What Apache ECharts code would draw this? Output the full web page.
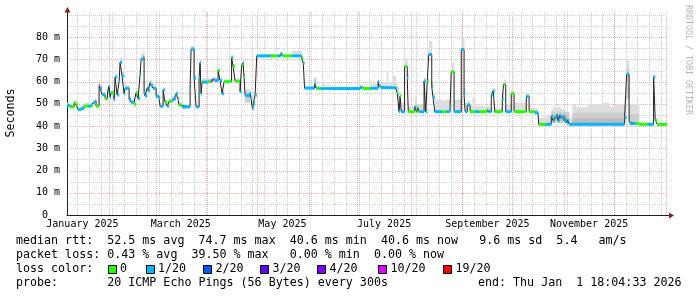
<!DOCTYPE html>
<html><head><meta charset="utf-8">
<script src="https://cdn.jsdelivr.net/npm/echarts@6/dist/echarts.min.js"></script>
<style>html,body{margin:0;padding:0;background:#fff}#c{width:697px;height:297px}</style>
</head><body><div id="c"></div>
<script>
// x values: days since 2025-01-01 00:00 (Jan 1 = 0)
const START_DAY = 5.75, END_DAY = 365.75;
const Y_MAX = 91.35;
const yMajorTicks = [10,20,30,40,50,60,70,80];
const yMinorTicks = [5,15,25,35,45,55,65,75,85,90];
const monthStarts = [31,59,90,120,151,181,212,243,273,304,334,365];
const firstMonday = 12;
const monthLabelDays = [15,74,135,196,258,319];
const monthLabels = ['January 2025','March 2025','May 2025','July 2025','September 2025','November 2025'];
const lossKeys = [0,1,2,3,4,10,19];
const lossNames = ['0','1/20','2/20','3/20','4/20','10/20','19/20'];
const lossColors = ['#26ff00','#00b8ff','#0059ff','#5e00ff','#7e00ff','#dd00ff','#ff0000'];

// [start day, median ms, loss (of 20), smoke top ms]
const medianSteps = [
[5.8,49.2,1,50.5],[7.6,48.6,0,50.0],[10.0,50.5,0,51.5],[11.2,49.5,0,51.0],[12.4,47.4,1,49.0],
[14.2,47.9,1,49.5],[16.0,49.0,0,50.5],[18.4,49.0,1,50.8],[20.2,49.3,0,50.5],[21.4,50.5,1,51.5],
[22.6,51.3,1,52.0],[23.2,49.0,0,50.0],[25.0,58.2,10,59.5],[25.6,57.0,1,58.5],[26.8,54.1,1,55.5],
[28.6,52.4,0,54.0],[30.1,55.6,1,57.0],[31.0,58.0,1,59.0],[31.6,53.0,1,55.0],[32.2,55.0,0,56.5],
[34.0,51.9,1,53.5],[34.6,62.1,1,63.5],[35.8,54.0,1,56.0],[37.0,60.0,1,61.5],[37.6,68.7,1,71.0],
[38.8,62.5,1,64.5],[40.0,54.5,1,56.0],[40.6,57.0,1,58.5],[43.0,52.0,1,53.5],[44.2,50.7,1,52.0],
[46.0,49.8,0,51.0],[47.2,55.0,0,56.5],[48.4,52.4,1,54.0],[49.6,63.1,1,65.0],[50.2,70.1,1,72.5],
[51.4,71.0,1,73.8],[52.0,55.0,1,57.0],[52.6,53.6,1,55.5],[53.8,57.0,1,58.5],[54.4,56.0,1,57.5],
[55.6,59.5,1,61.0],[56.2,58.2,1,60.0],[57.4,57.0,1,58.5],[59.2,53.4,1,55.0],[61.0,52.4,1,54.0],
[61.6,48.9,1,50.5],[63.4,56.2,1,57.5],[64.6,50.7,0,52.0],[65.8,49.0,1,50.5],[67.0,51.2,0,52.5],
[68.8,52.0,1,53.5],[70.6,53.6,1,55.0],[71.2,54.6,1,56.0],[72.4,52.0,1,53.5],[73.0,49.4,0,51.0],
[74.8,48.6,1,50.0],[79.6,57.0,1,58.5],[80.2,74.7,1,76.0],[82.0,61.5,1,63.0],[83.2,48.6,1,50.0],
[85.0,61.8,1,63.0],[85.6,68.6,1,70.0],[86.2,54.5,1,56.0],[86.8,60.0,0,61.5],[87.4,59.8,1,61.5],
[90.4,60.0,0,61.5],[92.2,60.5,10,61.5],[93.4,61.0,1,62.0],[94.6,60.5,1,61.5],[96.4,65.0,0,66.0],
[97.6,60.5,1,61.5],[98.8,54.6,1,56.0],[100.0,60.0,0,61.0],[104.5,70.8,1,72.0],[105.4,67.0,0,68.0],
[106.6,60.2,0,61.5],[109.6,55.5,1,57.0],[110.5,67.2,0,68.5],[111.4,68.4,1,69.5],[112.0,62.0,0,63.5],
[112.6,53.8,1,56.5],[115.6,54.8,1,56.0],[116.2,52.4,1,54.0],[116.8,48.6,1,50.0],[117.2,47.6,1,49.0],
[117.5,50.2,1,51.5],[118.6,54.0,1,55.0],[119.6,71.6,1,72.5],[128.0,71.6,0,72.5],[132.0,71.6,1,72.5],
[134.0,72.6,1,73.2],[135.0,71.6,0,72.5],[140.6,71.6,1,73.8],[146.4,70.6,0,71.5],[147.5,68.4,1,69.0],
[148.3,57.1,1,57.8],[154.3,59.0,1,62.0],[155.2,57.1,1,57.8],[155.9,56.9,0,57.5],[158.0,56.9,1,57.5],
[159.1,56.9,1,60.0],[160.1,56.9,1,57.5],[161.9,56.9,1,59.3],[162.6,56.9,1,57.5],[181.5,57.5,1,58.0],
[183.0,56.9,0,57.5],[187.6,57.0,1,59.0],[192.4,60.0,1,61.0],[193.0,58.0,1,59.5],[193.9,57.3,1,59.5],
[197.5,57.3,1,64.8],[198.4,57.3,1,59.5],[201.4,57.3,1,62.5],[202.9,56.9,1,60.0],[203.9,54.8,0,58.0],
[204.5,54.0,1,57.0],[205.0,46.5,1,50.0],[205.6,53.5,0,55.5],[206.3,46.5,1,50.5],[208.3,66.8,0,70.5],
[209.9,61.5,1,64.0],[210.5,46.5,0,49.0],[214.4,48.7,1,53.5],[215.5,46.5,0,49.5],[216.4,48.3,0,50.0],
[217.0,46.5,1,49.8],[220.0,60.3,1,61.5],[221.0,46.5,1,48.0],[221.9,60.3,0,61.5],[222.8,72.3,1,78.3],
[224.6,57.6,1,60.0],[225.4,52.8,1,55.0],[226.4,46.5,1,52.0],[231.0,46.5,0,51.5],[233.5,46.5,1,52.0],
[235.6,48.3,1,52.0],[236.3,64.5,0,68.5],[238.0,46.5,1,52.0],[242.3,74.5,1,79.8],[244.0,54.0,1,57.0],
[244.6,46.5,1,50.5],[245.9,49.5,1,51.5],[247.6,46.5,0,49.0],[249.0,46.5,0,52.8],[250.6,46.5,1,49.0],
[253.0,46.5,0,49.0],[258.0,47.5,0,49.0],[258.6,46.5,1,48.5],[260.3,54.0,1,57.0],[261.5,55.8,1,57.0],
[262.4,46.5,0,48.3],[266.9,52.0,1,54.0],[267.7,58.8,0,61.0],[269.0,46.5,1,49.8],[272.3,54.6,0,56.5],
[274.0,46.5,0,50.5],[281.3,53.3,1,55.0],[283.0,46.5,0,48.3],[286.4,46.0,1,48.0],[288.4,45.0,1,46.0],
[288.8,40.8,0,43.8],[293.0,40.8,1,44.5],[296.3,44.5,1,47.5],[297.5,42.3,1,49.0],[298.4,43.8,1,48.0],
[299.6,45.0,1,49.5],[300.5,42.3,1,48.5],[301.4,45.0,1,49.0],[302.0,43.8,1,47.5],[302.9,44.5,1,48.0],
[304.0,42.3,1,47.0],[305.0,43.0,1,46.5],[305.6,41.5,1,45.5],[306.4,42.6,1,46.0],[307.0,40.8,1,44.0],
[309.0,40.8,1,49.8],[311.0,40.8,1,48.6],[318.0,40.8,1,49.8],[327.0,40.8,1,50.5],[331.0,40.8,1,48.6],
[335.0,40.8,1,49.8],[340.3,43.8,1,50.0],[341.5,63.3,1,69.3],[343.0,42.0,1,49.8],[343.6,41.1,1,49.8],
[347.0,41.2,0,49.8],[349.0,40.8,0,41.8],[354.0,40.8,1,41.5],[357.7,62.1,1,63.0],[358.7,42.6,0,43.0],
[359.9,40.8,0,41.5]
];
// darker smoke: [from day, to day, low ms, high ms, shade 1|2]
const smokeDark = [
[112.6,115.6,50.5,55.5,1],[154.3,155.2,57.5,61.6,2],[296.3,307.0,41.5,46.5,1],[297.5,306.4,42.5,45.0,2],
[309.0,340.3,40.8,46.0,1],[309.0,340.3,40.8,43.5,2],[341.5,343.0,52.0,66.0,1],[343.0,349.0,40.8,45.5,1]
];

const FONT = '"DejaVu Sans Mono", monospace';
const MAJ = 'rgba(222,79,79,0.45)', MIN = 'rgba(143,143,143,0.45)';

const segs = medianSteps.map((r, i) => [r[0], i + 1 < medianSteps.length ? medianSteps[i + 1][0] : END_DAY, r[1], r[2], r[3]]);
const vGrid = [];
for (let d = firstMonday; d < END_DAY; d += 7) vGrid.push([d, 0]);
monthStarts.forEach(d => vGrid.push([d, 1]));
const hGrid = yMinorTicks.map(v => [v, 0]).concat(yMajorTicks.map(v => [v, 1]));
const medianLine = medianSteps.map(r => [r[0], r[1]]).concat([[END_DAY, medianSteps[medianSteps.length - 1][1]]]);

const chart = echarts.init(document.getElementById('c'), null, {renderer: 'canvas'});
const graphics = [];
graphics.push({type:'line', shape:{x1:667, y1:215.5, x2:670, y2:215.5}, style:{stroke:'#1f1f1f', lineWidth:1}});
graphics.push({type:'polygon', shape:{points:[[64.5,12.5],[70.5,12.5],[67.5,7]]}, style:{fill:'#7f1f1f'}});
graphics.push({type:'polygon', shape:{points:[[669,212.5],[669,218.5],[674,215.5]]}, style:{fill:'#7f1f1f'}});
graphics.push({type:'text', x:11, y:113, rotation:Math.PI/2, style:{text:'Seconds', font:'11.67px ' + FONT, fill:'#000', align:'center', verticalAlign:'middle'}});
graphics.push({type:'text', x:688, y:60, rotation:-Math.PI/2, style:{text:'RRDTOOL / TOBI OETIKER', font:'8.3px ' + FONT, fill:'#b4b4b4', align:'center', verticalAlign:'middle'}});
const legendRows = [
  [16, 241, 'median rtt:  52.5 ms avg  74.7 ms max  40.6 ms min  40.6 ms now   9.6 ms sd  5.4   am/s'],
  [16, 255, 'packet loss: 0.43 % avg  39.50 % max   0.00 % min  0.00 % now'],
  [16, 269, 'loss color:'],
  [16, 283, 'probe:       20 ICMP Echo Pings (56 Bytes) every 300s'],
  [478, 283, 'end: Thu Jan  1 18:04:33 2026']
];
legendRows.forEach(r => graphics.push({type:'text', x:r[0], y:r[1], style:{text:r[2], font:'11.67px ' + FONT, fill:'#000', verticalAlign:'middle'}}));
const boxX = [108, 146, 203, 260, 317, 378, 443];
const txtX = [120, 158, 215.5, 272.5, 329.5, 390.5, 455.5];
lossNames.forEach((n, i) => {
  graphics.push({type:'rect', shape:{x:boxX[i] + 0.5, y:265.5, width:8, height:8}, style:{fill:lossColors[i], stroke:'#000', lineWidth:1}});
  graphics.push({type:'text', x:txtX[i], y:269, style:{text:n, font:'11.67px ' + FONT, fill:'#000', verticalAlign:'middle'}});
});

chart.setOption({
  animation: false,
  backgroundColor: '#fff',
  grid: {left: 67, top: 12, width: 600, height: 203, containLabel: false},
  xAxis: {
    type: 'value', min: START_DAY, max: END_DAY,
    axisLine: {show: true, onZero: false, lineStyle: {color: '#1f1f1f', width: 1}},
    axisTick: {show: false}, splitLine: {show: false},
    axisLabel: {customValues: monthLabelDays, formatter: v => { const i = monthLabelDays.indexOf(v); return i >= 0 ? monthLabels[i] : ''; },
      fontFamily: FONT, fontSize: 10, color: '#000', margin: 4, showMinLabel: true, showMaxLabel: true, hideOverlap: false}
  },
  yAxis: {
    type: 'value', min: 0, max: Y_MAX, interval: 10,
    axisLine: {show: true, onZero: false, lineStyle: {color: '#1f1f1f', width: 1}},
    axisTick: {show: false}, splitLine: {show: false},
    axisLabel: {formatter: v => v === 0 ? '0  ' : (v <= 80 ? v + ' m' : ''), fontFamily: FONT, fontSize: 10, color: '#000', margin: 7, showMaxLabel: false}
  },
  graphic: graphics,
  series: [
    {type: 'custom', name: 'hgrid', z: 0, silent: true, data: hGrid, encode: {y: 0},
      renderItem: (p, api) => {
        const v = api.value(0), major = api.value(1);
        const a = api.coord([START_DAY, v]), b = api.coord([END_DAY, v]);
        const y = Math.round(a[1]) + 0.5;
        return {type: 'line', shape: {x1: a[0], y1: y, x2: b[0], y2: y}, style: {stroke: major ? MAJ : MIN, lineWidth: 1, lineDash: [1, 1]}};
      }},
    {type: 'custom', name: 'vgrid', z: 0, silent: true, data: vGrid, encode: {x: 0},
      renderItem: (p, api) => {
        const d = api.value(0), major = api.value(1);
        const a = api.coord([d, 0]), b = api.coord([d, Y_MAX]);
        const x = Math.round(a[0]) + 0.5;
        return {type: 'line', shape: {x1: x, y1: a[1], x2: x, y2: b[1]}, style: {stroke: major ? MAJ : MIN, lineWidth: 1, lineDash: [1, 1]}};
      }},
    {type: 'custom', name: 'smoke', z: 1, silent: true, data: segs, encode: {x: [0, 1], y: [2, 4]},
      renderItem: (p, api) => {
        const a = api.coord([api.value(0), api.value(4)]), b = api.coord([api.value(1), api.value(2)]);
        return {type: 'rect', shape: {x: a[0], y: a[1], width: b[0] - a[0] + 0.4, height: b[1] - a[1]}, style: {fill: '#dddddd'}};
      }},
    {type: 'custom', name: 'smokeDark', z: 1, silent: true, data: smokeDark, encode: {x: [0, 1], y: [2, 3]},
      renderItem: (p, api) => {
        const a = api.coord([api.value(0), api.value(3)]), b = api.coord([api.value(1), api.value(2)]);
        return {type: 'rect', shape: {x: a[0], y: a[1], width: b[0] - a[0], height: b[1] - a[1]}, style: {fill: api.value(4) === 2 ? '#bcbcbc' : '#cecece'}};
      }},
    {type: 'line', name: 'median', z: 2, step: 'end', data: medianLine, symbol: 'none', silent: true,
      lineStyle: {color: '#202020', width: 1}},
    {type: 'custom', name: 'loss', z: 3, silent: true, data: segs, encode: {x: [0, 1], y: 2},
      renderItem: (p, api) => {
        const a = api.coord([api.value(0), api.value(2)]), b = api.coord([api.value(1), api.value(2)]);
        const c = lossColors[lossKeys.indexOf(api.value(3))];
        return {type: 'line', shape: {x1: a[0], y1: a[1], x2: b[0], y2: b[1]}, style: {stroke: c, lineWidth: 3, lineCap: 'butt'}};
      }}
  ]
});
</script></body></html>
